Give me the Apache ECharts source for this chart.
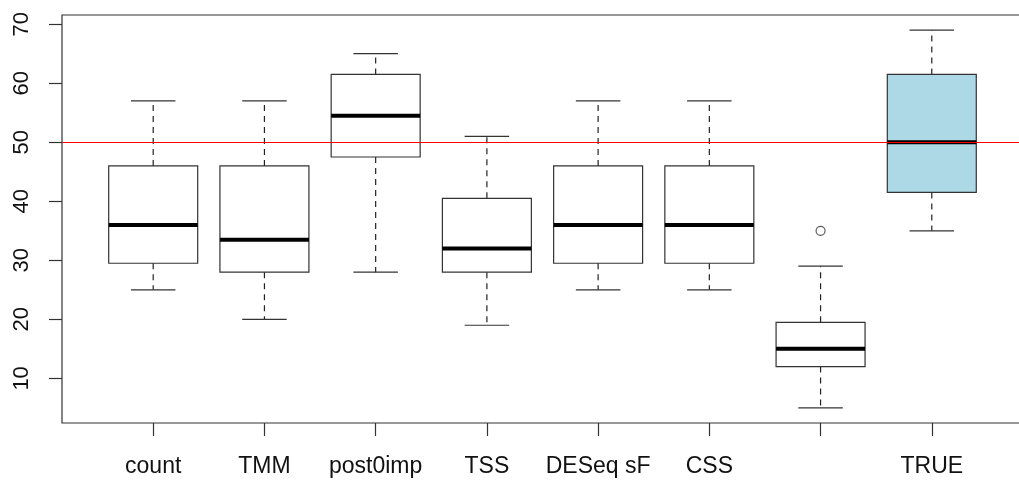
<!DOCTYPE html>
<html>
<head>
<meta charset="utf-8">
<script src="https://cdn.jsdelivr.net/npm/echarts@6/dist/echarts.min.js"></script>
<style>
  html, body { margin: 0; padding: 0; background: #fff; }
  #chart { width: 1019px; height: 481px; }
</style>
</head>
<body>
<div id="chart"></div>
<script>
// box statistics, one entry per category (position 1..8)
const categories = ["count", "TMM", "post0imp", "TSS", "DESeq sF", "CSS", "", "TRUE"];
const whiskerLow = [25, 20, 28, 19, 25, 25, 5, 35];
const quart1 = [29.5, 28, 47.5, 28, 29.5, 29.5, 12, 41.5];
const medians = [36, 33.5, 54.5, 32, 36, 36, 15, 50];
const quart3 = [46, 46, 61.5, 40.5, 46, 46, 19.5, 61.5];
const whiskerHigh = [57, 57, 65, 51, 57, 57, 29, 69];
const outlierPos = [7];
const outlierVal = [35];
const refLine = [50];
const yTicks = [10, 20, 30, 40, 50, 60, 70];

const positions = categories.map((c, i) => i + 1);
const boxData = positions.map((p, i) => [p, whiskerLow[i], quart1[i], medians[i], quart3[i], whiskerHigh[i]]);
const outlierData = outlierPos.map((p, i) => [p, outlierVal[i]]);

const ink = "#333";

function renderBox(params, api) {
  const x = api.value(0);
  const lo = api.coord([x, api.value(1)]);
  const q1 = api.coord([x, api.value(2)]);
  const md = api.coord([x, api.value(3)]);
  const q3 = api.coord([x, api.value(4)]);
  const hi = api.coord([x, api.value(5)]);
  const half = api.size([0.8, 0])[0] / 2;
  const cap = half / 2;
  const cx = md[0];
  const fill = categories[params.dataIndex] === "TRUE" ? "#add8e6" : "rgba(0,0,0,0)";
  const dash = { stroke: "#222", lineWidth: 1.2, lineDash: [6, 5] };
  const solid = { stroke: ink, lineWidth: 1.2 };
  return {
    type: "group",
    children: [
      { type: "line", shape: { x1: cx, y1: q3[1], x2: cx, y2: hi[1] }, style: dash },
      { type: "line", shape: { x1: cx, y1: q1[1], x2: cx, y2: lo[1] }, style: dash },
      { type: "line", shape: { x1: cx - cap, y1: hi[1], x2: cx + cap, y2: hi[1] }, style: solid },
      { type: "line", shape: { x1: cx - cap, y1: lo[1], x2: cx + cap, y2: lo[1] }, style: solid },
      { type: "rect", shape: { x: cx - half, y: q3[1], width: half * 2, height: q1[1] - q3[1] },
        style: { fill: fill, stroke: ink, lineWidth: 1.2 } },
      { type: "line", shape: { x1: cx - half, y1: md[1], x2: cx + half, y2: md[1] },
        style: { stroke: "#000", lineWidth: 4 } }
    ]
  };
}

const chart = echarts.init(document.getElementById("chart"));
chart.setOption({
  backgroundColor: "#fff",
  animation: false,
  textStyle: { fontFamily: "Liberation Sans, Arial, sans-serif" },
  grid: {
    left: 62, top: 15, width: 961, height: 408,
    outerBoundsMode: "none",
    show: true, borderColor: ink, borderWidth: 1.2, backgroundColor: "transparent"
  },
  xAxis: {
    type: "value",
    min: 0.18, max: 8.82,
    axisLine: { show: false },
    splitLine: { show: false },
    axisTick: { show: true, customValues: positions, length: 13, lineStyle: { color: ink, width: 1.2 } },
    axisLabel: {
      customValues: positions,
      margin: 32,
      fontSize: 23,
      color: "#111",
      formatter: v => categories[Math.round(v) - 1]
    }
  },
  yAxis: {
    type: "value",
    min: 2.44, max: 71.56,
    axisLine: { show: false },
    splitLine: { show: false },
    axisTick: { show: true, customValues: yTicks, length: 13, lineStyle: { color: ink, width: 1.2 } },
    axisLabel: {
      customValues: yTicks,
      rotate: 90,
      margin: 29,
      fontSize: 22,
      color: "#111"
    }
  },
  series: [
    {
      type: "custom",
      renderItem: renderBox,
      encode: { x: 0, y: [1, 2, 3, 4, 5] },
      data: boxData,
      z: 2
    },
    {
      type: "scatter",
      data: outlierData,
      symbol: "circle",
      symbolSize: 9,
      itemStyle: { color: "rgba(0,0,0,0)", borderColor: ink, borderWidth: 1.2 },
      z: 3
    },
    {
      type: "line",
      data: [],
      z: 5,
      markLine: {
        silent: true,
        symbol: "none",
        label: { show: false },
        lineStyle: { color: "#ff0000", width: 1.2, type: "solid" },
        data: refLine.map(v => ({ yAxis: v }))
      }
    }
  ]
});
</script>
</body>
</html>
